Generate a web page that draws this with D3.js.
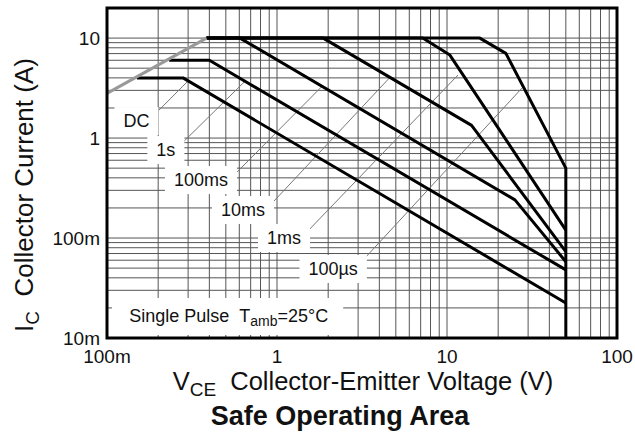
<!DOCTYPE html>
<html><head><meta charset="utf-8">
<script src="https://cdn.jsdelivr.net/npm/d3@7"></script>
<style>
html,body{margin:0;padding:0;background:#fff;}
svg text{font-family:"Liberation Sans",Arial,Helvetica,sans-serif;fill:#111;}
</style></head>
<body><svg id="c" width="635" height="438"></svg>
<script>
// ---------- data ----------
const xTickValues = [0.1, 1, 10, 100];
const xTickLabels = ["100m", "1", "10", "100"];
const yTickValues = [0.01, 0.1, 1, 10];
const yTickLabels = ["10m", "100m", "1", "10"];

const limitV = [0.1, 0.385];
const limitI = [2.8, 10];

const dcV = [0.15, 0.28, 50];
const dcI = [4, 4, 0.0224];
const s1V = [0.232, 0.40, 50];
const s1I = [6, 6, 0.048];
const ms100V = [0.385, 0.606, 25.1, 50];
const ms100I = [10, 10, 0.241, 0.058];
const ms10V = [0.385, 1.87, 13.95, 50];
const ms10I = [10, 10, 1.34, 0.073];
const ms1V = [0.385, 7.2, 10.4, 50];
const ms1I = [10, 10, 6.76, 0.12];
const us100V = [0.385, 15.6, 22.2, 50, 50];
const us100I = [10, 10, 7.03, 0.5, 0.01];

const curveNames = ["DC", "1s", "100ms", "10ms", "1ms", "100µs"];
const labelV = [0.149, 0.222, 0.357, 0.631, 1.10, 2.14];
const labelI = [1.48, 0.759, 0.380, 0.191, 0.100, 0.049];
const leaderFromV = [0.184, 0.262, 0.582, 0.948, 1.50, 3.21];
const leaderFromI = [1.62, 0.813, 0.457, 0.229, 0.115, 0.0603];
const leaderToV = [0.30, 0.648, 1.84, 4.62, 11.6, 27.6];
const leaderToI = [3.73, 3.70, 3.29, 4.05, 4.27, 3.16];

const noteV = 0.135, noteI = 0.0166;

// ---------- layout ----------
const svg = d3.select("#c");
const L = 107, R = 617, T = 8, B = 338;
const x = d3.scaleLog().domain([0.1, 100]).range([L, R]);
const y = d3.scaleLog().domain([0.01, 20]).range([B, T]);

// grid
const xGrid = [], yGrid = [];
[0.1, 1, 10].forEach(d => { for (let k = 1; k <= 9; k++) xGrid.push(d * k); });
xGrid.push(100);
[0.01, 0.1, 1].forEach(d => { for (let k = 1; k <= 9; k++) yGrid.push(d * k); });
yGrid.push(10);

const g = svg.append("g");
g.selectAll(".vg").data(xGrid).enter().append("line")
  .attr("x1", d => x(d)).attr("x2", d => x(d)).attr("y1", T).attr("y2", B)
  .attr("stroke", "#555").attr("stroke-width", 1);
g.selectAll(".hg").data(yGrid).enter().append("line")
  .attr("x1", L).attr("x2", R).attr("y1", d => y(d)).attr("y2", d => y(d))
  .attr("stroke", "#555").attr("stroke-width", 1);

// label boxes + texts
const labG = svg.append("g");
curveNames.forEach((n, i) => {
  const t = labG.append("text").attr("x", x(labelV[i])).attr("y", y(labelI[i]))
    .attr("text-anchor", "middle").attr("dominant-baseline", "central")
    .attr("font-size", 18).text(n);
  const bb = t.node().getBBox();
  labG.insert("rect", "text").attr("x", bb.x - 9).attr("y", bb.y - 4)
    .attr("width", bb.width + 18).attr("height", bb.height + 8).attr("fill", "#fff");
});
// note box
const note = labG.append("text").attr("x", x(noteV)).attr("y", y(noteI))
  .attr("dominant-baseline", "central").attr("font-size", 18);
note.append("tspan").text("Single Pulse\u00a0\u00a0T");
note.append("tspan").attr("font-size", 14).attr("dy", 5).text("amb");
note.append("tspan").attr("dy", -5).text("=25°C");
const nb = note.node().getBBox();
labG.insert("rect", "text").attr("x", L + 5).attr("y", nb.y - 8)
  .attr("width", nb.x + nb.width + 15 - (L + 5)).attr("height", B - 3 - (nb.y - 8)).attr("fill", "#fff");

// leaders
svg.append("g").selectAll("line").data(curveNames).enter().append("line")
  .attr("x1", (d, i) => x(leaderFromV[i])).attr("y1", (d, i) => y(leaderFromI[i]))
  .attr("x2", (d, i) => x(leaderToV[i])).attr("y2", (d, i) => y(leaderToI[i]))
  .attr("stroke", "#777").attr("stroke-width", 1);

labG.raise();

// curves
const line = d3.line().x(d => x(d[0])).y(d => y(d[1]));
const zip = (a, b) => a.map((v, i) => [v, b[i]]);
const curves = [zip(dcV, dcI), zip(s1V, s1I), zip(ms100V, ms100I), zip(ms10V, ms10I), zip(ms1V, ms1I), zip(us100V, us100I)];
svg.append("g").selectAll("path").data(curves).enter().append("path")
  .attr("d", line).attr("fill", "none").attr("stroke", "#000").attr("stroke-width", 3)
  .attr("stroke-linejoin", "round");
svg.append("path").attr("d", line(zip(limitV, limitI))).attr("fill", "none")
  .attr("stroke", "#999").attr("stroke-width", 3);

// border
svg.append("rect").attr("x", L).attr("y", T).attr("width", R - L).attr("height", B - T)
  .attr("fill", "none").attr("stroke", "#000").attr("stroke-width", 3);

// tick labels
svg.append("g").selectAll("text").data(xTickValues).enter().append("text")
  .attr("x", d => x(d)).attr("y", B + 18).attr("text-anchor", "middle")
  .attr("dominant-baseline", "central").attr("font-size", 19)
  .text((d, i) => xTickLabels[i]);
svg.append("g").selectAll("text").data(yTickValues).enter().append("text")
  .attr("x", L - 7).attr("y", d => y(d)).attr("text-anchor", "end")
  .attr("dominant-baseline", "central").attr("font-size", 19)
  .text((d, i) => yTickLabels[i]);

// axis titles
const xt = svg.append("text").attr("x", 363).attr("y", 390).attr("text-anchor", "middle").attr("font-size", 25.5);
xt.append("tspan").text("V");
xt.append("tspan").attr("font-size", 19).attr("dy", 6).text("CE");
xt.append("tspan").attr("dy", -6).text("\u00a0 Collector-Emitter Voltage (V)");

const yt = svg.append("text").attr("transform", "translate(33,195) rotate(-90)")
  .attr("text-anchor", "middle").attr("font-size", 26);
yt.append("tspan").text("I");
yt.append("tspan").attr("font-size", 19).attr("dy", 6).text("C");
yt.append("tspan").attr("dy", -6).text("\u00a0 Collector Current (A)");

svg.append("text").attr("x", 340).attr("y", 425).attr("text-anchor", "middle")
  .attr("font-size", 27).attr("font-weight", "bold").text("Safe Operating Area");
</script></body></html>
